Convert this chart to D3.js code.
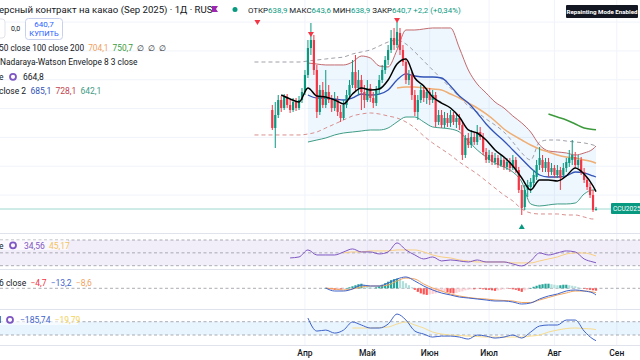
<!DOCTYPE html>
<html><head><meta charset="utf-8">
<script src="https://cdn.jsdelivr.net/npm/d3@7"></script>
<style>
body{margin:0;background:#fff;}
svg{display:block;font-family:Roboto,"Noto Sans",sans-serif;}
text{white-space:pre;}
</style></head><body><svg id="c" width="640" height="360"></svg>
<script>
// ---- candle data (index 0 = 17 Mar 2025, trading days) ----
const openP = [778.0,753.1,771.1,791.9,780.8,796.1,785.0,778.0,789.1,780.8,
791.9,803.0,826.6,864.0,875.1,833.5,775.3,805.8,785.0,803.0,
791.9,780.8,791.9,775.3,766.9,785.0,798.8,812.7,830.7,808.5,
819.6,803.0,791.9,808.5,794.7,787.7,805.8,819.6,833.5,847.4,
861.3,877.9,868.2,884.8,861.3,844.6,819.6,826.6,798.8,775.3,
791.9,805.8,794.7,803.0,791.9,798.8,761.4,771.1,757.2,766.9,
760.0,771.1,761.4,766.9,757.2,715.6,739.2,729.5,740.6,733.6,
747.5,740.6,719.8,708.7,715.6,705.9,711.5,701.7,708.7,699.0,
705.9,697.6,708.7,694.8,667.1,643.5,667.1,671.2,676.8,685.1,
701.7,708.7,697.6,705.9,692.0,697.6,687.9,694.8,687.9,697.6,
704.5,708.7,712.8,701.7,708.7,692.0,681.0,671.2,660.1,638.9];
const highP = [785.0,789.1,798.8,797.4,800.2,800.2,791.9,794.7,794.7,797.4,
808.5,833.5,875.1,898.7,882.1,840.5,812.7,816.9,833.5,812.7,
798.8,803.0,797.4,785.0,791.9,805.8,819.6,847.4,854.3,833.5,
826.6,812.7,819.6,814.1,803.0,811.3,826.6,840.5,852.9,868.2,
889.0,891.8,900.1,891.8,868.2,850.2,833.5,830.7,805.8,798.8,
812.7,811.3,808.5,808.5,805.8,803.0,778.0,778.0,775.3,773.9,
778.0,775.3,772.5,772.5,761.4,743.4,746.1,750.3,747.5,757.2,
754.5,746.1,725.3,722.6,719.8,718.4,715.6,715.6,712.8,711.5,
711.5,715.6,712.8,699.0,674.0,674.0,681.0,683.7,694.8,708.7,
726.7,715.6,711.5,711.5,704.5,701.7,701.7,699.0,704.5,711.5,
722.6,736.4,719.8,715.6,712.8,697.6,685.1,676.8,667.1,643.6];
const lowP = [750.3,725.3,766.9,775.3,778.0,780.8,773.9,775.3,776.6,778.0,
787.7,798.8,822.4,854.3,826.6,766.9,771.1,780.8,780.8,787.7,
775.3,776.6,769.7,761.4,764.2,780.8,794.7,808.5,803.0,798.8,
778.0,780.8,789.1,789.1,780.8,783.6,800.2,815.5,828.0,840.5,
857.1,861.3,864.0,854.3,839.1,814.1,812.7,791.9,769.7,764.2,
787.7,789.1,786.4,785.0,787.7,754.5,757.2,753.1,753.1,754.5,
754.5,757.2,753.1,750.3,708.7,711.5,725.3,725.3,729.5,729.5,
736.4,715.6,704.5,704.5,701.7,701.7,697.6,699.0,694.8,694.8,
692.0,694.8,690.7,662.9,632.4,639.3,657.4,662.9,671.2,681.0,
694.8,692.0,692.0,685.1,687.9,683.7,683.7,667.1,683.7,692.0,
699.0,701.7,697.6,697.6,687.9,676.8,667.1,656.0,636.6,638.9];
const closeP = [753.1,771.1,791.9,780.8,796.1,785.0,778.0,789.1,780.8,791.9,
803.0,826.6,864.0,875.1,833.5,775.3,805.8,785.0,803.0,791.9,
780.8,791.9,775.3,766.9,785.0,798.8,812.7,830.7,808.5,819.6,
803.0,791.9,808.5,794.7,787.7,805.8,819.6,833.5,847.4,861.3,
877.9,868.2,886.2,861.3,844.6,819.6,826.6,798.8,775.3,791.9,
805.8,794.7,803.0,791.9,798.8,761.4,771.1,757.2,766.9,760.0,
771.1,761.4,766.9,757.2,715.6,739.2,729.5,740.6,733.6,747.5,
740.6,719.8,708.7,715.6,705.9,711.5,701.7,708.7,699.0,705.9,
697.6,708.7,694.8,667.1,642.1,667.1,674.0,678.2,687.9,701.7,
711.5,697.6,705.9,692.0,697.6,687.9,694.8,683.7,697.6,705.9,
711.5,715.6,701.7,708.7,692.0,681.0,671.2,660.1,639.3,640.7];

// ---- indicator lines, sampled at these bar indices ----
const gridIdx = [-6,-3,0,3,6,9,12,15,18,21,24,27,30,33,36,39,42,45,48,51,54,57,60,63,66,69,72,75,78,81,84,87,90,93,96,99,102,105,108,109];
const maFast = [null,null,null,798.8,793.3,789.1,808.5,797.4,796.1,791.9,786.4,800.2,808.5,805.8,807.2,819.6,841.8,848.8,822.4,811.3,796.1,787.7,780.8,768.3,750.3,746.1,736.4,722.6,712.8,700.4,683.7,667.1,681.0,681.0,679.6,686.5,697.6,689.3,672.6,664.8];
const bbBasis = [null,null,null,null,null,null,798.8,794.7,794.7,793.3,791.9,794.7,800.2,798.8,800.2,805.8,819.6,828.0,825.2,823.8,823.8,822.4,811.3,797.4,787.7,773.9,758.6,746.1,735.0,722.6,710.1,697.6,687.9,685.1,685.1,686.5,692.0,690.7,686.5,685.1];
const bbUpper = [null,null,null,null,null,null,843.2,841.8,840.5,840.5,840.5,844.6,852.9,850.2,839.1,837.7,861.3,889.0,889.0,890.4,891.8,891.8,891.8,864.0,833.5,814.1,801.6,789.1,780.8,769.7,760.0,747.5,729.5,721.2,719.8,718.4,715.6,718.4,724.0,728.1];
const bbLower = [null,null,null,null,null,null,733.6,736.4,739.2,743.4,746.1,747.5,748.9,750.3,750.3,753.1,761.4,768.3,768.3,761.4,754.5,753.1,751.7,747.5,735.0,722.6,712.8,704.5,699.0,692.0,678.2,647.7,644.9,646.3,647.7,647.7,649.0,661.5,667.1,667.1];
const sma50 = [null,null,null,null,null,null,null,null,null,null,null,null,null,null,null,null,808.5,809.9,809.9,808.5,807.2,805.8,800.2,794.7,787.7,780.8,772.5,762.8,751.7,743.4,736.4,729.5,724.0,719.8,715.6,712.8,711.5,708.7,705.9,704.1];
const sma100 = [null,null,null,null,null,null,null,null,null,null,null,null,null,null,null,null,null,null,null,null,null,null,null,null,null,null,null,null,null,null,null,null,null,772.5,768.3,764.2,758.6,753.1,751.0,750.7];
const nwUpper = [844.6,844.6,844.6,844.6,844.6,844.6,846.0,847.4,848.8,850.2,851.5,855.7,858.5,861.3,866.8,872.3,875.1,869.6,858.5,846.0,833.5,821.0,808.5,796.1,783.6,775.3,765.5,757.2,747.5,733.6,718.4,708.7,733.6,736.4,736.4,735.0,733.6,732.3,729.5,728.1];
const nwLower = [743.4,743.4,743.4,743.4,743.4,743.4,744.7,747.5,753.1,758.6,764.2,769.7,772.5,773.9,772.5,769.7,766.9,761.4,753.1,742.0,732.3,723.9,715.6,705.9,697.6,689.3,679.6,669.8,660.1,651.8,640.7,635.2,633.8,633.8,633.8,632.4,632.4,629.6,626.8,626.8];
const rsi = [null,null,null,null,42.1,43.6,54.5,46.7,46.7,46.7,51.4,56.1,51.4,51.4,48.3,51.4,65.4,54.5,46.7,40.5,43.6,37.4,38.9,37.4,35.8,38.9,35.8,35.8,35.8,32.7,29.6,37.4,49.8,46.7,49.8,53.0,51.4,40.5,35.8,34.56];
const rsiMa = [null,null,null,null,null,null,null,null,null,null,49.8,51.4,51.4,53.0,53.0,53.0,54.5,54.5,54.5,51.4,46.7,43.6,42.1,38.9,37.4,35.8,35.8,35.8,35.8,34.3,34.3,34.3,37.4,40.5,43.6,48.3,49.8,49.8,46.7,45.17];
const macd = [null,null,null,null,null,null,null,null,0.6,-5.3,-5.3,-1.4,6.5,4.5,4.5,10.4,18.2,22.2,14.3,4.5,-3.3,-9.2,-13.1,-17.1,-19.0,-21.0,-22.9,-24.9,-24.9,-26.9,-30.8,-28.8,-21.0,-15.1,-11.2,-5.3,-3.3,-5.3,-9.2,-13.2];
const macdSignal = [null,null,null,null,null,null,null,null,0.6,-1.4,-3.3,-1.4,2.5,4.5,4.5,6.5,14.3,20.2,18.2,8.4,0.6,-5.3,-11.2,-15.1,-18.0,-20.0,-21.0,-22.9,-23.9,-24.9,-27.8,-27.8,-22.9,-18.0,-13.1,-9.2,-5.3,-5.3,-7.3,-8.6];
const histStart = 18;
const macdHist = [0.5,-1,-2,-3,-2,-2,-1,0.5,2,4,6,8,9,7,5,3,1,2,4,7,10,13,16,18,19,17,14,10,6,2,
-3,-7,-10,-12,-13,-12,-11,-10,-8,-7,-6,-8,-9,-10,-9,-7,-6,-4,-3,-2,-2,-1,-1,-2,-3,-3,-4,-5,-4,-3,
-2,-1,-1,-2,-3,-5,-7,-4,-2,0.5,3,5,7,8,9,9,8,7,6,6,7,7,6,5,4,2,0.5,-1,-2,-3,-4,-4.7];
const cci = [null,null,null,null,null,null,155,-41,-26,-71,-26,95,50,5,5,65,215,125,-41,-86,-131,-116,-116,-131,-161,-101,-116,-146,-131,-101,-146,-56,35,50,50,125,125,-41,-161,-185.74];
const cciMa = [null,null,null,null,null,null,null,null,null,null,null,5,5,5,12,20,65,95,50,5,-56,-86,-101,-108,-116,-123,-131,-131,-131,-131,-131,-116,-101,-56,-26,-3,5,-3,-11,-19.79];

const monthIdx = [11,32,53,73,95,116];
const monthLbl = ["Апр","Май","Июн","Июл","Авг","Сен"];
const sellIdx = [-5,13,42], sellPrice = [898.7,882.1,901.5];
const buyIdx = [84], buyPrice = [617.1];
const lastPrice = 640.7;

// ---- scales ----
const svg = d3.select("#c");
const x = d3.scaleLinear().domain([0,109]).range([272.3,596]);
const yP = d3.scaleLinear().domain([608.8,930.6]).range([232,0]);
const yR = d3.scaleLinear().domain([30,70]).range([265.7,240]);
const yM = d3.scaleLinear().domain([-30,30]).range([303.6,273]);
const yC = d3.scaleLinear().domain([-100,100]).range([335,321.7]);

const panes = [["main",0,233],["rsi",234,269],["macd",270,309],["cci",310,346]];
const defs = svg.append("defs");
panes.forEach(([id,y0,y1])=>{
  defs.append("clipPath").attr("id","clip-"+id).append("rect").attr("x",0).attr("y",y0).attr("width",640).attr("height",y1-y0);
});
const grid = svg.append("g").attr("stroke","#f0f3fa").attr("stroke-width",1);
monthIdx.forEach(m=>grid.append("line").attr("x1",x(m)).attr("x2",x(m)).attr("y1",0).attr("y2",346));
[660,700,740,780,820,860,900].forEach(p=>grid.append("line").attr("x1",0).attr("x2",640).attr("y1",yP(p)).attr("y2",yP(p)));
[233.5,269.5,309.5,345.5].forEach(y=>svg.append("line").attr("x1",0).attr("x2",640).attr("y1",y).attr("y2",y).attr("stroke","#e0e3eb"));

function series(vals){ return gridIdx.map((g,k)=>[g,vals[k]]); }
function lineGen(sc){ return d3.line().defined(d=>d[1]!=null).x(d=>x(d[0])).y(d=>sc(d[1])).curve(d3.curveMonotoneX); }

// ---- main pane ----
const main = svg.append("g").attr("clip-path","url(#clip-main)");
const bandData = gridIdx.map((g,k)=>[g,bbUpper[k],bbLower[k]]);
main.append("path").datum(bandData)
  .attr("d", d3.area().defined(d=>d[1]!=null).x(d=>x(d[0])).y0(d=>yP(d[2])).y1(d=>yP(d[1])).curve(d3.curveMonotoneX))
  .attr("fill","rgba(33,150,243,0.08)");
main.append("line").attr("x1",0).attr("x2",612).attr("y1",yP(lastPrice)).attr("y2",yP(lastPrice)).attr("stroke","#9fd8cf").attr("stroke-width",1);
function drawLine(g,vals,sc,color,w,dash){
  const p = g.append("path").datum(series(vals)).attr("d",lineGen(sc)).attr("fill","none").attr("stroke",color).attr("stroke-width",w);
  if(dash) p.attr("stroke-dasharray",dash);
}
drawLine(main,nwUpper,yP,"#a0a0a8",1,"4,3");
drawLine(main,nwLower,yP,"#d98f8f",1,"4,3");
drawLine(main,bbUpper,yP,"#c26a6e",1);
drawLine(main,bbLower,yP,"#3f9c86",1);
drawLine(main,sma50,yP,"#efae74",1.5);
drawLine(main,sma100,yP,"#3c9a3c",1.5);
drawLine(main,bbBasis,yP,"#3153b7",1.3);
const up="#089981", dn="#f23645";
const cg = main.append("g");
closeP.forEach((c,i)=>{
  const o=openP[i], col = c>=o?up:dn;
  cg.append("line").attr("x1",x(i)).attr("x2",x(i)).attr("y1",yP(highP[i])).attr("y2",yP(lowP[i])).attr("stroke",col).attr("stroke-width",1);
  const yt=yP(Math.max(o,c)), yb=yP(Math.min(o,c));
  cg.append("rect").attr("x",x(i)-1.1).attr("width",2.2).attr("y",yt).attr("height",Math.max(1,yb-yt)).attr("fill",col);
});
drawLine(main,maFast,yP,"#000000",1.5);
sellIdx.forEach((s,k)=>{
  const cx=x(s), cy=yP(sellPrice[k]);
  main.append("path").attr("d",`M${cx-3},${cy-3}L${cx+3},${cy-3}L${cx},${cy+2}Z`).attr("fill","#f23645");
});
buyIdx.forEach((s,k)=>{
  const cx=x(s), cy=yP(buyPrice[k]);
  main.append("path").attr("d",`M${cx-3},${cy+3}L${cx+3},${cy+3}L${cx},${cy-2}Z`).attr("fill","#089981");
});
svg.append("rect").attr("x",611).attr("y",yP(lastPrice)-6).attr("width",30).attr("height",11).attr("fill","#089981").attr("rx",1);
svg.append("text").attr("x",613).attr("y",yP(lastPrice)+2.3).attr("fill","#fff").attr("font-size",6.6).text("CCU2025");

// ---- RSI pane ----
const rp = svg.append("g").attr("clip-path","url(#clip-rsi)");
rp.append("rect").attr("x",0).attr("width",640).attr("y",yR(70)).attr("height",yR(30)-yR(70)).attr("fill","rgba(126,87,194,0.1)");
[70,50,30].forEach(v=>rp.append("line").attr("x1",0).attr("x2",640).attr("y1",yR(v)).attr("y2",yR(v)).attr("stroke","#9598a1").attr("stroke-width",0.8).attr("stroke-dasharray","3,2.5"));
drawLine(rp,rsiMa,yR,"#f8cf82",1);
drawLine(rp,rsi,yR,"#7e57c2",1);

// ---- MACD pane ----
const mp = svg.append("g").attr("clip-path","url(#clip-macd)");
mp.append("line").attr("x1",0).attr("x2",640).attr("y1",yM(0)).attr("y2",yM(0)).attr("stroke","#9598a1").attr("stroke-width",0.8).attr("stroke-dasharray","3,2.5");
macdHist.forEach((v,k)=>{
  const i = histStart+k, prev = k>0?macdHist[k-1]:v;
  let col;
  if(v>=0) col = v>=prev?"#26a69a":"#b2dfdb"; else col = v<=prev?"#ff5252":"#ffcdd2";
  const y0=yM(0), y1=yM(v);
  mp.append("rect").attr("x",x(i)-1.1).attr("width",2.2).attr("y",Math.min(y0,y1)).attr("height",Math.max(0.6,Math.abs(y1-y0))).attr("fill",col);
});
drawLine(mp,macdSignal,yM,"#f0a35e",1);
drawLine(mp,macd,yM,"#3f63c9",1);

// ---- CCI pane ----
const cp = svg.append("g").attr("clip-path","url(#clip-cci)");
cp.append("rect").attr("x",0).attr("width",640).attr("y",yC(100)).attr("height",yC(-100)-yC(100)).attr("fill","rgba(33,150,243,0.1)");
[100,-100].forEach(v=>cp.append("line").attr("x1",0).attr("x2",640).attr("y1",yC(v)).attr("y2",yC(v)).attr("stroke","#9598a1").attr("stroke-width",0.8).attr("stroke-dasharray","3,2.5"));
drawLine(cp,cciMa,yC,"#f8dc8e",1);
drawLine(cp,cci,yC,"#3f63c9",1);

// ---- x axis ----
monthIdx.forEach((m,k)=>svg.append("text").attr("x",x(m)).attr("y",356).attr("text-anchor","middle").attr("font-size",8.5).attr("fill","#131722").attr("font-weight",500).text(monthLbl[k]));

// ---- legends ----
function tspans(y,parts,xs,fs){
  const el = svg.append("text").attr("x",xs).attr("y",y).attr("font-size",fs||8.6);
  parts.forEach(([s,c])=>el.append("tspan").attr("fill",c).text(s));
  return el;
}
tspans(13,[["ерсный контракт на какао (Sep 2025) · 1Д · RUS","#131722"]],-1,9.6);
svg.append("path").attr("d","M212,6h6l-2,3l2,3h-6Z").attr("fill","#9c27b0");
svg.append("circle").attr("cx",235).attr("cy",9.5).attr("r",2.5).attr("fill","#089981");
tspans(13,[["ОТКР","#131722"],["638,9 ","#089981"],["МАКС","#131722"],["643,6 ","#089981"],["МИН","#131722"],["638,9 ","#089981"],["ЗАКР","#131722"],["640,7 +2,2 (+0,34%)","#089981"]],248,7.9);
svg.append("rect").attr("x",-6).attr("y",19).attr("width",11).attr("height",19).attr("rx",3).attr("fill","#fff").attr("stroke","#e0e3eb");
svg.append("text").attr("x",11).attr("y",31).attr("font-size",7).attr("fill","#131722").text("0,0");
svg.append("rect").attr("x",25.5).attr("y",18.5).attr("width",37).attr("height",21).attr("rx",3).attr("fill","#fff").attr("stroke","#c7d1ee");
svg.append("text").attr("x",44).attr("y",27).attr("text-anchor","middle").attr("font-size",8).attr("fill","#2962ff").text("640,7");
svg.append("text").attr("x",44).attr("y",36).attr("text-anchor","middle").attr("font-size",7.5).attr("fill","#2962ff").text("КУПИТЬ");
tspans(51,[["50 close 100 close 200  ","#131722"],["704,1  ","#efa05c"],["750,7  ","#3c9a3c"],["∅  ∅  ∅","#131722"]],-1,8.3);
tspans(65,[["Nadaraya-Watson Envelope 8 3 close","#131722"]],0,8.4);
tspans(80,[["e","#131722"]],-1,8.5);
svg.append("circle").attr("cx",13).attr("cy",76.8).attr("r",3).attr("fill","none").attr("stroke","#7e57c2").attr("stroke-width",1.8);
tspans(80,[["664,8","#131722"]],23,8.5);
tspans(94,[["close 2  ","#131722"],["685,1  ","#3153b7"],["728,1  ","#c2444f"],["642,1","#3f9c86"]],-1,8.5);
svg.append("rect").attr("x",566).attr("y",5).attr("width",72).attr("height",13).attr("fill","#131722").attr("rx",1);
svg.append("text").attr("x",602).attr("y",13.9).attr("text-anchor","middle").attr("font-size",6.2).attr("font-weight",700).attr("fill","#fff").text("Repainting Mode Enabled");
svg.append("rect").attr("x",0).attr("y",240).attr("width",68).attr("height",10).attr("fill","rgba(255,255,255,0.6)");
tspans(248.5,[["e","#131722"]],-1,8.5);
svg.append("circle").attr("cx",13).attr("cy",245.3).attr("r",3).attr("fill","none").attr("stroke","#7e57c2").attr("stroke-width",1.8);
tspans(248.5,[["34,56  ","#7e57c2"],["45,17","#f3c35c"]],24,8.5);
tspans(286,[["6 close  ","#131722"],["−4,7  ","#f23645"],["−13,2  ","#3f63c9"],["−8,6","#f0a35e"]],-1,8.5);
svg.append("rect").attr("x",0).attr("y",315).attr("width",78).attr("height",10).attr("fill","rgba(255,255,255,0.6)");
tspans(323,[["I","#131722"]],-1,8.5);
svg.append("circle").attr("cx",10).attr("cy",319.8).attr("r",3).attr("fill","none").attr("stroke","#7e57c2").attr("stroke-width",1.8);
tspans(323,[["−185,74  ","#3f63c9"],["−19,79","#f3d25c"]],20,8.5);
</script></body></html>
